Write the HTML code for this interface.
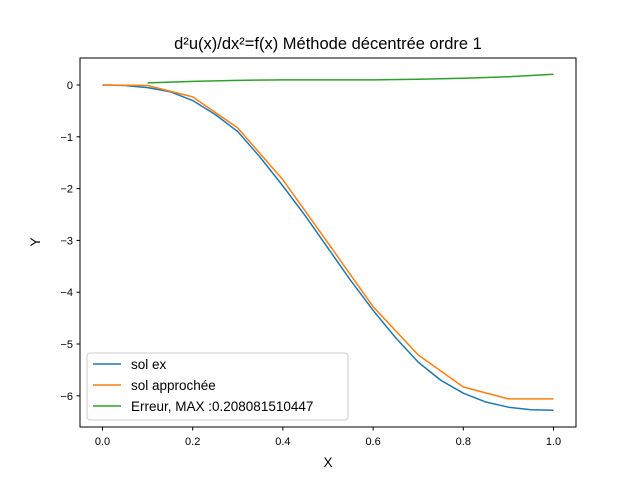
<!DOCTYPE html>
<html><head><meta charset="utf-8"><style>
body{margin:0;background:#fff}
svg{font-family:"Liberation Sans","DejaVu Sans",sans-serif}
</style></head><body>
<svg id="c" width="640" height="480" viewBox="0 0 640 480">
<rect width="640" height="480" fill="#fff"/>
<text x="328" y="49" font-size="16.5" text-anchor="middle">d²u(x)/dx²=f(x) Méthode décentrée ordre 1</text>
<g id="plot"></g>
<rect x="80" y="58" width="496" height="369" fill="none" stroke="#000" stroke-width="1"/>
<text x="328" y="467" font-size="13.5" text-anchor="middle">X</text>
<text x="40" y="242" font-size="13.5" text-anchor="middle" transform="rotate(-90 40 242)">Y</text>
<g>
<rect x="87" y="353" width="261" height="67" rx="3" fill="#fff" fill-opacity="0.8" stroke="#ccc"/>
<line x1="93" y1="364" x2="121" y2="364" stroke="#1f77b4" stroke-width="1.5"/>
<text x="131" y="369" font-size="13.5">sol ex</text>
<line x1="93" y1="385" x2="121" y2="385" stroke="#ff7f0e" stroke-width="1.5"/>
<text x="131" y="390" font-size="13.5">sol approchée</text>
<line x1="93" y1="406" x2="121" y2="406" stroke="#2ca02c" stroke-width="1.5"/>
<text x="131" y="411" font-size="13.5">Erreur, MAX :0.208081510447</text>
</g>
</svg>
<script>
const exX=[0,0.05,0.1,0.15,0.2,0.25,0.3,0.35,0.4,0.45,0.5,0.55,0.6,0.65,0.7,0.75,0.8,0.85,0.9,0.95,1.0];
const exY=[0,-0.01,-0.05,-0.13,-0.3,-0.57,-0.9,-1.4,-1.95,-2.53,-3.15,-3.77,-4.35,-4.88,-5.35,-5.7,-5.95,-6.12,-6.22,-6.27,-6.28];
const apX=[0,0.1,0.2,0.3,0.4,0.5,0.6,0.7,0.8,0.9,1.0];
const apY=[0,-0.01,-0.23,-0.83,-1.83,-3.05,-4.28,-5.21,-5.83,-6.06,-6.06];
const erX=[0.1,0.2,0.3,0.4,0.5,0.6,0.7,0.8,0.9,1.0];
const erY=[0.04,0.07,0.09,0.1,0.1,0.1,0.11,0.13,0.16,0.208];
const xTicks=[0,0.2,0.4,0.6,0.8,1.0];
const xTickLabels=["0.0","0.2","0.4","0.6","0.8","1.0"];
const yTicks=[0,-1,-2,-3,-4,-5,-6];
const yTickLabels=["0","−1","−2","−3","−4","−5","−6"];
const NS="http://www.w3.org/2000/svg";
const sx=v=>102.5+v*451;
const sy=v=>85-v*51.8;
const g=document.getElementById('plot');
function mk(t,a){const e=document.createElementNS(NS,t);for(const k in a)e.setAttribute(k,a[k]);g.appendChild(e);return e;}
xTicks.forEach((v,i)=>{
 const l=mk('line',{x1:sx(v),x2:sx(v),y1:427,y2:430.5,stroke:'#000'});
 
 
 const t=mk('text',{x:sx(v),y:445,'font-size':11,'text-anchor':'middle'});t.textContent=xTickLabels[i];
 
 
});
yTicks.forEach((v,i)=>{
 const l=mk('line',{x1:76.5,x2:80,y1:sy(v),y2:sy(v),stroke:'#000'});
 
 
 const t=mk('text',{x:73,y:sy(v)+4,'font-size':11,'text-anchor':'end'});t.textContent=yTickLabels[i];
 
 
});
function line(xs,ys,c,n){
 const p=mk('polyline',{points:xs.map((x,i)=>sx(x)+','+sy(ys[i])).join(' '),fill:'none',stroke:c,'stroke-width':1.5,'stroke-linejoin':'round'});
 
 
}
line(exX,exY,'#1f77b4','line-sol-ex');
line(apX,apY,'#ff7f0e','line-sol-approchee');
line(erX,erY,'#2ca02c','line-erreur');
</script>
</body></html>
